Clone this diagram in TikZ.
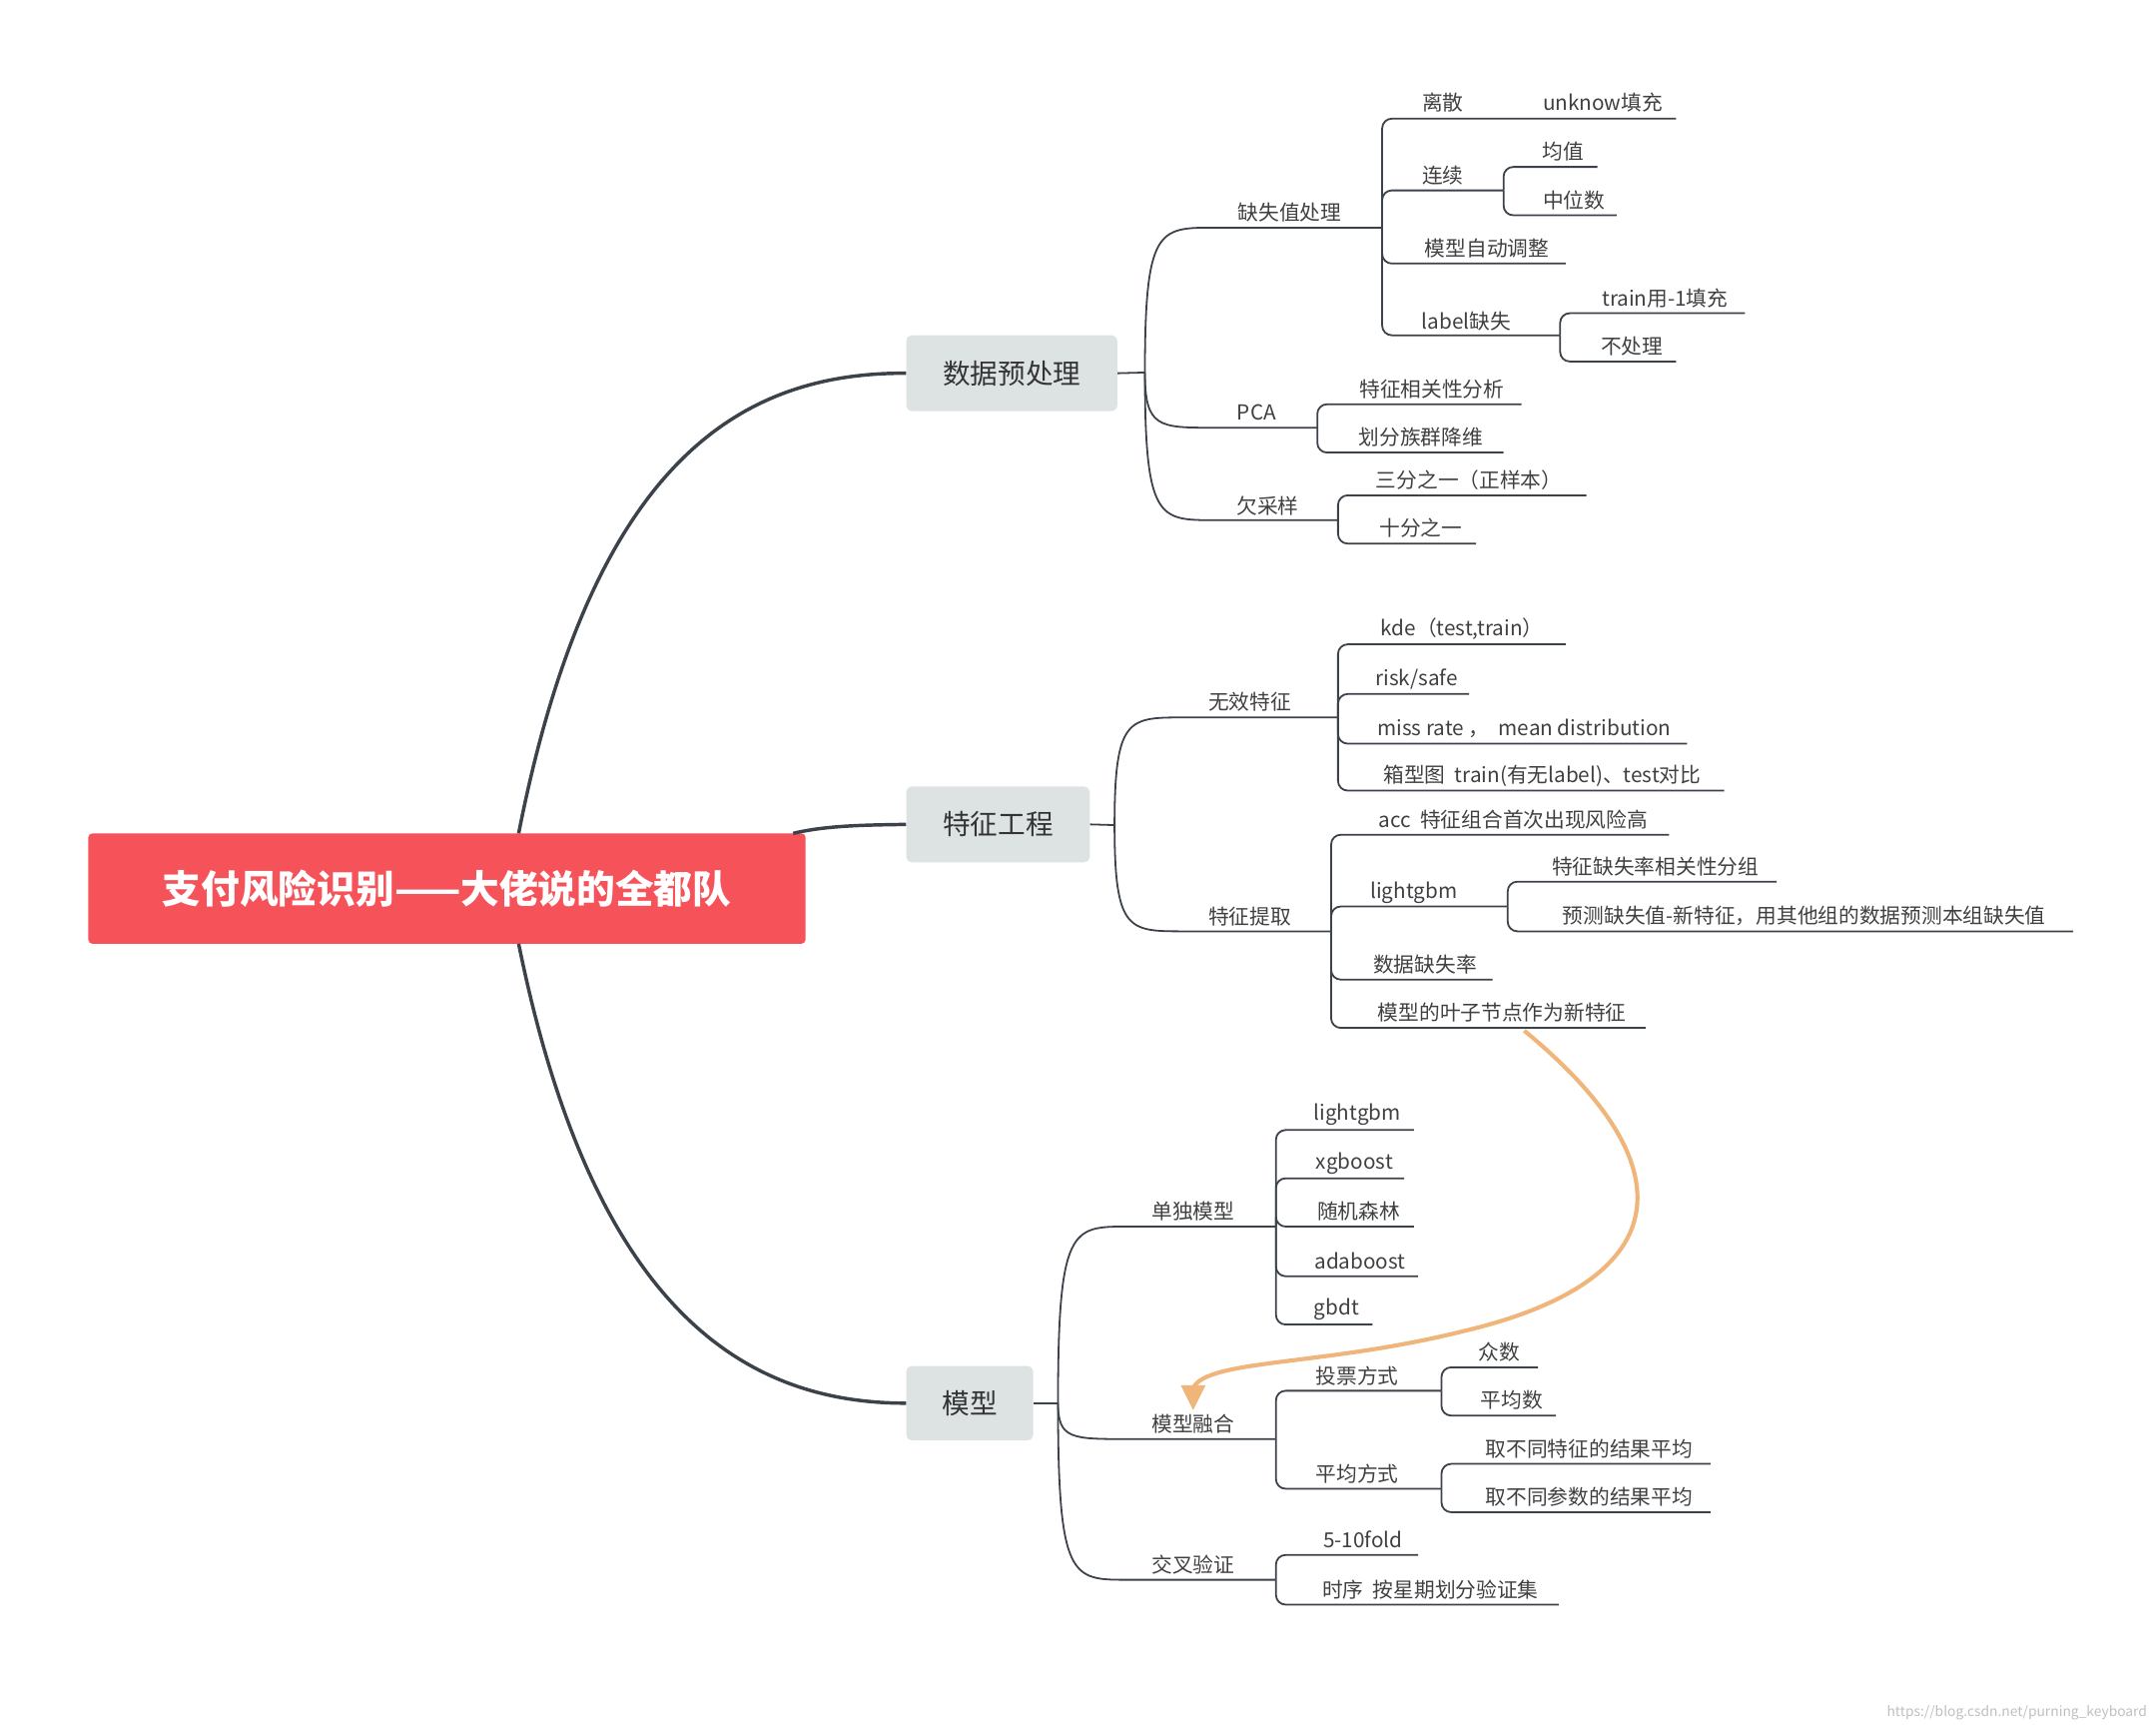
\documentclass[tikz,border=0pt]{standalone}
\usepackage{fontspec}
\setmainfont{Noto Sans CJK SC}
\definecolor{rootred}{RGB}{245,82,90}
\definecolor{relorange}{RGB}{239,181,122}
\definecolor{mainfill}{RGB}{221,227,227}
\definecolor{linec}{RGB}{60,66,74}
\begin{document}
\begin{tikzpicture}[x=1pt,y=-1pt,
  br/.style={draw=linec, line width=1.3pt, rounded corners=7pt},
  lbl/.style={font=\fontsize{15}{15}\selectfont, text=black!75, inner sep=0pt},
  mainbox/.style={fill=mainfill, rounded corners=4pt, font=\fontsize{20}{20}\selectfont, text=black!80},
  trunk/.style={draw=linec, line width=2.5pt}]
\useasboundingbox (0,0) rectangle (1563,1250);
\newcommand{\lf}[8]{\draw[br] (#1,#2) |- (#3,#4); \node[lbl] (#8) at (#5,#6) {#7};}
\newcommand{\cv}[5]{\draw[br,rounded corners=0] (#1,#2) .. controls (#1,#4) and (#1+10,#4) .. (#1+50,#4) -- (#3,#4);}
% root
\node[fill=rootred, rounded corners=3pt, minimum width=520pt, minimum height=80pt, text=white, font=\fontsize{28}{28}\selectfont\bfseries] (root) at (324,644) {支付风险识别——大佬说的全都队};
\node[mainbox, minimum width=153pt, minimum height=55pt] (m1) at (733.5,270.5) {数据预处理};
\node[mainbox, minimum width=133pt, minimum height=55pt] (m2) at (723.5,597.5) {特征工程};
\node[mainbox, minimum width=92pt, minimum height=54pt] (m3) at (703,1017) {模型};
\draw[trunk] (376,604) .. controls (430,330) and (540,270) .. (m1.west);
\draw[trunk] (575,604) .. controls (600,598) and (630,598) .. (m2.west);
\draw[trunk] (376,684) .. controls (430,950) and (540,1017) .. (m3.west);
% 数据预处理
\draw[br] (m1.east) -- (830,270);
\cv{830}{270}{1002}{165}{}
\cv{830}{270}{955}{310}{}
\cv{830}{270}{970}{377}{}
\node[lbl] (a1) at (935,154) {缺失值处理};
\node[lbl] (a2) at (911,299) {PCA};
\node[lbl] (a3) at (919,367) {欠采样};
\lf{1002}{165}{1215}{86}{1046}{74}{离散}{b1}
\node[lbl] (b1a) at (1162,74) {unknow填充};
\lf{1002}{165}{1090}{138}{1046}{127}{连续}{b2}
\lf{1090}{138}{1158}{121}{1133}{110}{均值}{b2a}
\lf{1090}{138}{1172}{156}{1141}{145}{中位数}{b2b}
\lf{1002}{165}{1135}{191}{1078}{180}{模型自动调整}{b3}
\lf{1002}{165}{1131}{243}{1063}{233}{label缺失}{b4}
\lf{1131}{243}{1265}{227}{1207}{216}{train用-1填充}{b4a}
\lf{1131}{243}{1215}{262}{1183}{251}{不处理}{b4b}
\lf{955}{310}{1103}{293}{1038}{282}{特征相关性分析}{c1}
\lf{955}{310}{1090}{328}{1030}{317}{划分族群降维}{c2}
\lf{970}{377}{1150}{359}{1065}{348}{三分之一（正样本）}{d1}
\lf{970}{377}{1070}{394}{1030}{383}{十分之一}{d2}
% 特征工程
\draw[br] (m2.east) -- (808,598);
\cv{808}{598}{970}{520}{}
\cv{808}{598}{965}{675}{}
\node[lbl] (e1) at (906,509) {无效特征};
\node[lbl] (e2) at (906,664) {特征提取};
\lf{970}{520}{1135}{467}{1060}{456}{kde（test,train）}{f1}
\lf{970}{520}{1065}{503}{1027}{492}{risk/safe}{f2}
\lf{970}{520}{1223}{539}{1105}{528}{miss rate ，\ \ mean distribution}{f3}
\lf{970}{520}{1250}{573}{1118}{562}{箱型图\ \ train(有无label)、test对比}{f4}
\lf{965}{675}{1210}{605}{1097}{594}{acc\ \ 特征组合首次出现风险高}{g1}
\lf{965}{675}{1093}{657}{1025}{647}{lightgbm}{g2}
\lf{1093}{657}{1288}{639}{1200}{628}{特征缺失率相关性分组}{g2a}
\lf{1093}{657}{1503}{675}{1308}{664}{预测缺失值-新特征，用其他组的数据预测本组缺失值}{g2b}
\lf{965}{675}{1082}{710}{1033}{699}{数据缺失率}{g3}
\lf{965}{675}{1193}{745}{1089}{734}{模型的叶子节点作为新特征}{g4}
% 模型
\draw[br] (m3.east) -- (767,1017);
\cv{767}{1017}{925}{889}{}
\cv{767}{1017}{925}{1043}{}
\cv{767}{1017}{925}{1145}{}
\node[lbl] (h1) at (865,878) {单独模型};
\node[lbl] (h2) at (865,1032) {模型融合};
\node[lbl] (h3) at (865,1134) {交叉验证};
\lf{925}{889}{1025}{819}{984}{808}{lightgbm}{i1}
\lf{925}{889}{1018}{854}{982}{843}{xgboost}{i2}
\lf{925}{889}{1025}{889}{985}{878}{随机森林}{i3}
\lf{925}{889}{1028}{925}{986}{914}{adaboost}{i4}
\lf{925}{889}{995}{960}{969}{949}{gbdt}{i5}
\lf{925}{1043}{1045}{1008}{984}{997}{投票方式}{j1}
\lf{1045}{1008}{1115}{991}{1087}{980}{众数}{j1a}
\lf{1045}{1008}{1128}{1026}{1096}{1015}{平均数}{j1b}
\lf{925}{1043}{1045}{1079}{984}{1068}{平均方式}{j2}
\lf{1045}{1079}{1240}{1061}{1152}{1050}{取不同特征的结果平均}{j2a}
\lf{1045}{1079}{1240}{1096}{1152}{1085}{取不同参数的结果平均}{j2b}
\lf{925}{1145}{1028}{1127}{988}{1116}{5-10fold}{k1}
\lf{925}{1145}{1130}{1163}{1037}{1152}{时序\ \ 按星期划分验证集}{k2}
% relation arrow
\coordinate (rs) at (1105,747);
\coordinate (re) at (865,1006);
\draw[line width=3pt, draw=relorange] (rs) .. controls (1230,850) and (1210,930) .. (1060,965) .. controls (960,990) and (875,985) .. (re);
\fill[relorange] (856,1004) -- (874,1004) -- (865,1022) -- cycle;
\node[font=\fontsize{10}{10}\selectfont, text=black!25, anchor=east] (wm) at (1560,1241) {https://blog.csdn.net/purning\_keyboard};
\end{tikzpicture}
\end{document}
